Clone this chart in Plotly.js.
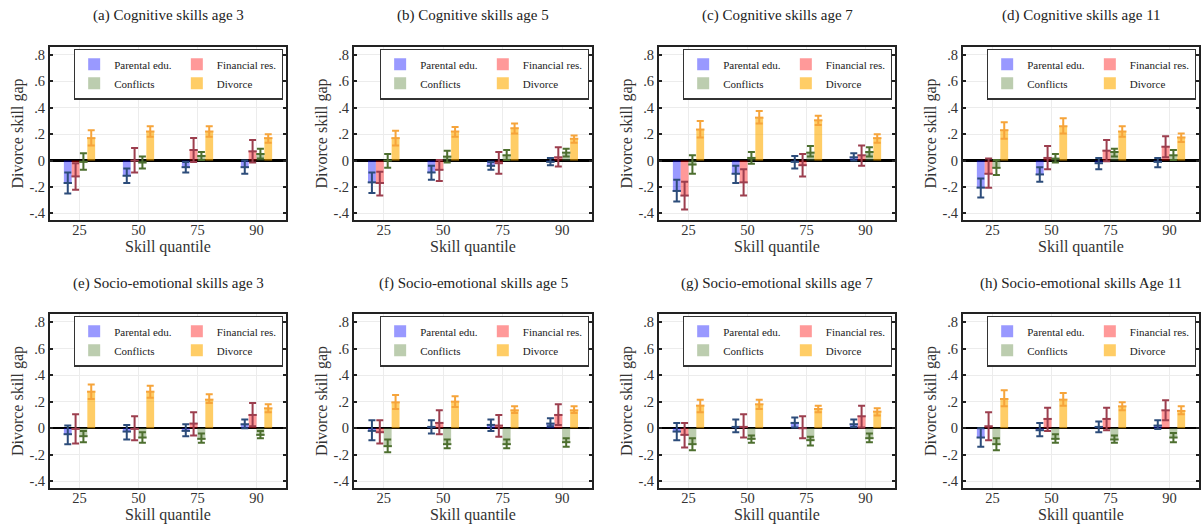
<!DOCTYPE html>
<html><head><meta charset="utf-8">
<script src="https://cdn.plot.ly/plotly-3.0.1.min.js"></script>
<style>html,body{margin:0;padding:0;background:#fff}</style>
</head><body><div id="chart" style="width:1202px;height:525px"></div>
<script>
// ---------------- data ----------------
const quantiles = ['25', '50', '75', '90'];
const panelTitles = [
  '(a) Cognitive skills age 3', '(b) Cognitive skills age 5',
  '(c) Cognitive skills age 7', '(d) Cognitive skills age 11',
  '(e) Socio-emotional skills age 3', '(f) Socio-emotional skills age 5',
  '(g) Socio-emotional skills age 7', '(h) Socio-emotional skills Age 11'
];
const seriesNames = ['Parental edu.', 'Financial res.', 'Conflicts', 'Divorce'];
const yTickVals = [-0.4, -0.2, 0, 0.2, 0.4, 0.6, 0.8];
const yTickText = ['-.4', '-.2', '0', '.2', '.4', '.6', '.8'];

// rows: panels a..h ; columns: quantiles 25, 50, 75, 90
const eduEst = [
  [-0.17, -0.115, -0.05, -0.05], [-0.165, -0.09, -0.04, -0.01],
  [-0.23, -0.10, -0.01, 0.025], [-0.205, -0.105, -0.02, -0.01],
  [-0.045, -0.025, -0.02, 0.03], [-0.02, 0.01, 0.025, 0.035],
  [-0.025, 0.01, 0.04, 0.03], [-0.07, -0.015, 0.01, 0.02]];
const eduLo = [
  [-0.25, -0.17, -0.09, -0.10], [-0.245, -0.145, -0.07, -0.035],
  [-0.31, -0.17, -0.06, 0.0], [-0.28, -0.16, -0.065, -0.05],
  [-0.12, -0.085, -0.06, 0.0], [-0.09, -0.04, -0.02, 0.015],
  [-0.09, -0.03, 0.005, 0.01], [-0.14, -0.06, -0.03, -0.005]];
const eduHi = [
  [-0.09, -0.06, -0.01, 0.0], [-0.09, -0.04, -0.01, 0.02],
  [-0.145, -0.04, 0.035, 0.055], [-0.135, -0.05, 0.02, 0.02],
  [0.02, 0.025, 0.03, 0.065], [0.06, 0.06, 0.065, 0.075],
  [0.04, 0.065, 0.08, 0.065], [0.0, 0.04, 0.05, 0.06]];

const finEst = [
  [-0.12, 0.0, 0.08, 0.07], [-0.17, -0.07, -0.02, 0.025],
  [-0.265, -0.165, -0.035, 0.04], [-0.10, 0.02, 0.075, 0.105],
  [-0.005, -0.005, 0.035, 0.10], [-0.03, 0.04, 0.02, 0.10],
  [-0.05, 0.01, 0.0, 0.09], [0.015, 0.07, 0.07, 0.135]];
const finLo = [
  [-0.22, -0.09, -0.01, -0.015], [-0.265, -0.155, -0.10, -0.045],
  [-0.37, -0.265, -0.12, -0.04], [-0.205, -0.065, -0.005, 0.025],
  [-0.115, -0.09, -0.055, 0.015], [-0.115, -0.045, -0.065, 0.025],
  [-0.145, -0.07, -0.075, 0.005], [-0.09, -0.02, -0.015, 0.06]];
const finHi = [
  [-0.02, 0.095, 0.17, 0.155], [-0.085, 0.005, 0.065, 0.10],
  [-0.16, -0.065, 0.05, 0.115], [0.015, 0.11, 0.155, 0.185],
  [0.105, 0.09, 0.12, 0.19], [0.06, 0.135, 0.10, 0.18],
  [0.04, 0.105, 0.09, 0.17], [0.12, 0.155, 0.155, 0.21]];

const conEst = [
  [-0.01, -0.015, 0.035, 0.05], [0.0, 0.03, 0.04, 0.06],
  [-0.03, 0.02, 0.06, 0.065], [-0.055, 0.015, 0.065, 0.04],
  [-0.06, -0.07, -0.08, -0.05], [-0.135, -0.12, -0.12, -0.105],
  [-0.12, -0.08, -0.09, -0.075], [-0.12, -0.08, -0.085, -0.07]];
const conLo = [
  [-0.07, -0.06, 0.005, 0.015], [-0.055, -0.015, 0.005, 0.03],
  [-0.10, -0.025, 0.03, 0.03], [-0.11, -0.015, 0.03, 0.005],
  [-0.105, -0.11, -0.11, -0.075], [-0.18, -0.15, -0.15, -0.14],
  [-0.165, -0.11, -0.13, -0.105], [-0.165, -0.11, -0.11, -0.105]];
const conHi = [
  [0.055, 0.03, 0.065, 0.09], [0.05, 0.075, 0.08, 0.09],
  [0.04, 0.065, 0.11, 0.10], [0.005, 0.05, 0.09, 0.08],
  [-0.02, -0.03, -0.04, -0.02], [-0.085, -0.085, -0.085, -0.075],
  [-0.075, -0.055, -0.065, -0.04], [-0.075, -0.045, -0.055, -0.035]];

const divEst = [
  [0.17, 0.22, 0.22, 0.17], [0.17, 0.22, 0.245, 0.165],
  [0.235, 0.325, 0.305, 0.17], [0.23, 0.26, 0.22, 0.175],
  [0.275, 0.275, 0.215, 0.15], [0.195, 0.20, 0.135, 0.135],
  [0.17, 0.18, 0.145, 0.125], [0.22, 0.215, 0.165, 0.13]];
const divLo = [
  [0.115, 0.18, 0.18, 0.135], [0.115, 0.18, 0.205, 0.135],
  [0.175, 0.28, 0.27, 0.135], [0.165, 0.205, 0.18, 0.14],
  [0.22, 0.23, 0.19, 0.12], [0.145, 0.16, 0.115, 0.115],
  [0.12, 0.145, 0.12, 0.095], [0.165, 0.17, 0.135, 0.105]];
const divHi = [
  [0.23, 0.26, 0.26, 0.20], [0.225, 0.255, 0.28, 0.19],
  [0.30, 0.375, 0.34, 0.20], [0.29, 0.32, 0.26, 0.205],
  [0.33, 0.32, 0.255, 0.18], [0.25, 0.24, 0.165, 0.165],
  [0.215, 0.215, 0.17, 0.15], [0.285, 0.265, 0.195, 0.165]];

// ---------------- styling ----------------
const barColors = ['rgba(0,0,255,0.4)', 'rgba(255,0,0,0.4)', 'rgba(95,135,65,0.42)', 'rgba(255,172,0,0.6)'];
const errColors = ['#2c4c7a', '#9c3e4e', '#4d6f2f', '#f6a43a'];
const est = [eduEst, finEst, conEst, divEst];
const lo = [eduLo, finLo, conLo, divLo];
const hi = [eduHi, finHi, conHi, divHi];

const W = 1202, H = 525;
const xPix = [[50, 286], [354, 592], [659, 895], [963, 1199]];
const yPix = [[47, 220], [314, 488]];
const FONT = "'Liberation Serif', 'DejaVu Serif', serif";

const traces = [];
const layout = {
  width: W, height: H,
  margin: {l: 0, r: 0, t: 0, b: 0},
  paper_bgcolor: '#fff', plot_bgcolor: '#fff',
  barmode: 'group', bargap: 0.47, bargroupgap: 0,
  scattermode: 'group', scattergap: 0.47,
  font: {family: FONT, color: '#333'},
  annotations: []
};

for (let p = 0; p < 8; p++) {
  const row = Math.floor(p / 4), col = p % 4;
  const xd = [xPix[col][0] / W, xPix[col][1] / W];
  const yd = [1 - yPix[row][1] / H, 1 - yPix[row][0] / H];
  const n = p + 1;
  const axKey = n === 1 ? '' : String(n);
  const xa = 'x' + axKey, ya = 'y' + axKey;
  const leg = 'legend' + axKey;

  for (let s = 0; s < 4; s++) {
    const e = est[s][p];
    traces.push({
      type: 'bar', x: quantiles, y: e, name: seriesNames[s],
      xaxis: xa, yaxis: ya, legend: leg,
      legendgroup: 'p' + n + ((s === 0 || s === 2) ? 'L' : 'R'),
      marker: {color: barColors[s], line: {width: 0}},
      error_y: {
        type: 'data', symmetric: false,
        array: e.map((v, i) => hi[s][p][i] - v),
        arrayminus: e.map((v, i) => v - lo[s][p][i]),
        color: errColors[s], thickness: 2, width: 3.5
      },
      hoverinfo: 'y'
    });
  }
  for (let s = 0; s < 4; s++) {
    traces.push({
      type: 'scatter', mode: 'markers', x: quantiles, y: est[s][p],
      xaxis: xa, yaxis: ya, showlegend: false, hoverinfo: 'skip',
      marker: {symbol: 'line-ew', size: 6, line: {width: 2, color: errColors[s]}}
    });
  }

  layout['xaxis' + axKey] = {
    domain: xd, anchor: ya, type: 'category', range: [-0.5, 3.5],
    showgrid: true, gridcolor: '#ececec', gridwidth: 1,
    showline: true, mirror: true, linecolor: '#222', linewidth: 2,
    ticks: '', ticklabelstandoff: -4,
    tickfont: {family: FONT, size: 14.5, color: '#333'},
    title: {text: 'Skill quantile', font: {family: FONT, size: 16, color: '#333'}, standoff: 0},
    fixedrange: true
  };
  layout['yaxis' + axKey] = {
    domain: yd, anchor: xa, range: [-0.45, 0.86],
    tickvals: yTickVals, ticktext: yTickText,
    showgrid: true, gridcolor: '#ececec', gridwidth: 1,
    showline: true, mirror: 'ticks', linecolor: '#222', linewidth: 2,
    ticks: 'inside', ticklen: 3, tickwidth: 2, tickcolor: '#222',
    tickfont: {family: FONT, size: 14.5, color: '#333'},
    zeroline: true, zerolinecolor: '#000', zerolinewidth: 2.5,
    title: {text: 'Divorce skill gap', font: {family: FONT, size: 16, color: '#333'}, standoff: 2},
    fixedrange: true
  };

  const lx = (f) => xd[0] + f * (xd[1] - xd[0]);
  layout[leg] = {
    orientation: 'h', xanchor: 'right', yanchor: 'top',
    x: lx(0.988), y: yd[1] - 1.5 / H,
    bgcolor: '#ffffff', bordercolor: '#333', borderwidth: 1.3,
    font: {family: FONT, size: 11, color: '#222'},
    traceorder: 'grouped', tracegroupgap: 0, itemwidth: 30
  };

  layout.annotations.push({
    text: panelTitles[p], xref: 'paper', x: lx(0.5), xanchor: 'center',
    yref: 'paper', y: 1 - (row === 0 ? 15 : 283) / H, yanchor: 'middle',
    showarrow: false, font: {family: FONT, size: 15, color: '#222'}
  });
}

Plotly.newPlot('chart', traces, layout, {displayModeBar: false, staticPlot: true});
</script>
</body></html>
